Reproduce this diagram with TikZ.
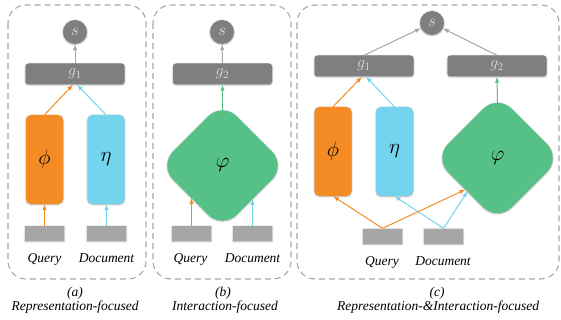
\RequirePackage{fix-cm}
\documentclass[tikz,border=0pt]{standalone}
\usepackage{fontspec}
\setmainfont{Liberation Serif}
\usepackage{amsmath, amssymb}
\usetikzlibrary{calc, shapes, arrows.meta, positioning, shadows.blur}

\definecolor{rep_orange}{HTML}{F58B25}
\definecolor{rep_blue}{HTML}{74D4EE}
\definecolor{inter_green}{HTML}{55C187}
\definecolor{bar_gray}{HTML}{7F7F7F}
\definecolor{bar_text}{HTML}{DCDCDC}
\definecolor{in_gray}{HTML}{A6A6A6}
\definecolor{line_gray}{HTML}{A6A6A6}
\definecolor{panel_gray}{HTML}{A8A8A8}

\begin{document}
\begin{tikzpicture}[
        x=1pt, y=-1pt,
        font=\fontsize{13.5}{15}\selectfont\itshape,
        soft/.style={blur shadow={shadow xshift=0pt, shadow yshift=-0.5pt, shadow blur radius=1.6pt, shadow blur steps=6, shadow opacity=35}},
        panel/.style={draw=panel_gray, line width=1.1pt, dash pattern=on 6pt off 4pt, rounded corners=18pt},
        enc_box/.style={rectangle, rounded corners=5pt, minimum width=37pt, minimum height=89pt, inner sep=0pt, soft, font=\fontsize{21}{22}\selectfont},
        inter_box/.style={diamond, rounded corners=20pt, minimum width=127pt, minimum height=127pt, inner sep=0pt, fill=inter_green, soft, font=\fontsize{21}{22}\selectfont},
        agg_bar/.style={rectangle, rounded corners=3pt, fill=bar_gray, minimum width=99pt, minimum height=21pt, inner sep=0pt, text=bar_text, soft, font=\fontsize{16}{17}\selectfont},
        score/.style={circle, fill=bar_gray, minimum size=24pt, inner sep=0pt, text=bar_text, soft, font=\fontsize{17}{18}\selectfont},
        input_box/.style={rectangle, fill=in_gray, minimum width=39pt, minimum height=15pt, inner sep=0pt, soft},
        lbl/.style={anchor=base, inner sep=0pt},
        arrow/.style={-{Latex[length=6pt, width=4.5pt]}, line width=1pt}
    ]
    \useasboundingbox (0,0) rectangle (561,320);

    % (a) representation-focused
    \draw[panel] (8,5) rectangle (146,279);
    \node[score] (s_a) at (75,32) {$s$};
    \node[agg_bar] (g_a) at (75,74) {$g_1$};
    \node[enc_box, fill=rep_orange] (phi_a) at (44.5,159.5) {$\phi$};
    \node[enc_box, fill=rep_blue] (eta_a) at (106,159.5) {$\eta$};
    \node[input_box] (q_a) at (44.5,233.5) {};
    \node[input_box] (d_a) at (106.5,233.5) {};
    \node[lbl] (ql_a) at (44.5,262) {Query};
    \node[lbl] (dl_a) at (106.5,262) {Document};
    \node[lbl] (cap_a) at (75,296) {(a)};
    \node[lbl] (title_a) at (75,310) {Representation-focused};

    \draw[arrow, rep_orange] (q_a.north) -- (q_a.north |- phi_a.south);
    \draw[arrow, rep_blue] (d_a.north) -- (d_a.north |- eta_a.south);
    \draw[arrow, rep_orange] (phi_a.north) -- ($(g_a.south)+(-2,0)$);
    \draw[arrow, rep_blue] (eta_a.north) -- ($(g_a.south)+(2,0)$);
    \draw[arrow, line_gray] (g_a) -- (s_a);

    % (b) interaction-focused
    \draw[panel] (153,5) rectangle (291,279);
    \node[score] (s_b) at (222,32) {$s$};
    \node[agg_bar] (g_b) at (222.5,74) {$g_2$};
    \node[inter_box] (dia_b) at (222.5,165.5) {$\varphi$};
    \node[input_box] (q_b) at (191.5,233.5) {};
    \node[input_box] (d_b) at (252.5,233.5) {};
    \node[lbl] (ql_b) at (190.5,262) {Query};
    \node[lbl] (dl_b) at (252.5,262) {Document};
    \node[lbl] (cap_b) at (223,296) {(b)};
    \node[lbl] (title_b) at (225,310) {Interaction-focused};

    \draw[arrow, rep_orange] (q_b.north) -- ($(dia_b.center)+(-31,32.5)$);
    \draw[arrow, rep_blue] (d_b.north) -- ($(dia_b.center)+(30,33.5)$);
    \draw[arrow, inter_green] ($(dia_b.center)+(0,-55)$) -- (g_b.south);
    \draw[arrow, line_gray] (g_b) -- (s_b);

    % (c) both branches together
    \draw[panel] (297,5) rectangle (559,279);
    \node[score] (s_c) at (432,23) {$s$};
    \node[agg_bar] (g_c1) at (364,66) {$g_1$};
    \node[agg_bar] (g_c2) at (497,66) {$g_2$};
    \node[enc_box, fill=rep_orange] (phi_c) at (333,151.5) {$\phi$};
    \node[enc_box, fill=rep_blue] (eta_c) at (394.5,151.5) {$\eta$};
    \node[inter_box] (dia_c) at (497.5,158) {$\varphi$};
    \node[input_box] (q_c) at (382.5,236) {};
    \node[input_box] (d_c) at (443.5,236) {};
    \node[lbl] (ql_c) at (382,265) {Query};
    \node[lbl] (dl_c) at (443,265) {Document};
    \node[lbl] (cap_c) at (437,296) {(c)};
    \node[lbl] (title_c) at (438,310) {Representation-\&Interaction-focused};

    \draw[arrow, rep_blue] (d_c.north) -- (eta_c.south);
    \draw[arrow, rep_blue] (d_c.north) -- ($(dia_c.center)+(-30,33.5)$);
    \draw[arrow, rep_orange] (q_c.north) -- (phi_c.south);
    \draw[arrow, rep_orange] (q_c.north) -- ($(dia_c.center)+(-32,31.5)$);
    \draw[arrow, rep_orange] (phi_c.north) -- ($(g_c1.south)+(-2,0)$);
    \draw[arrow, rep_blue] (eta_c.north) -- ($(g_c1.south)+(2,0)$);
    \draw[arrow, inter_green] ($(dia_c.center)+(0,-55)$) -- (g_c2.south);
    \draw[arrow, line_gray] (g_c1.north) -- (s_c);
    \draw[arrow, line_gray] (g_c2.north) -- (s_c);
\end{tikzpicture}
\end{document}
